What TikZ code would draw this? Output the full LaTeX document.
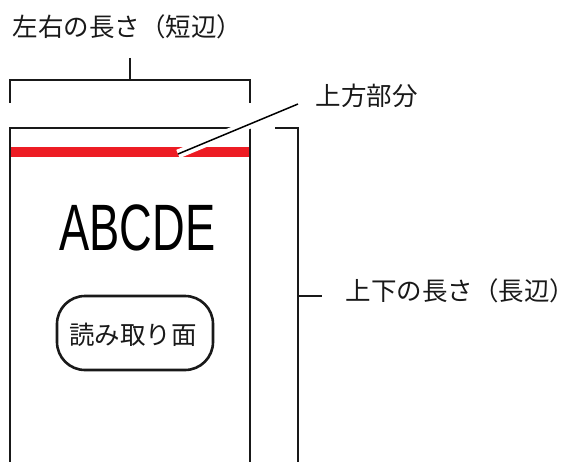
\documentclass[tikz,border=0pt]{standalone}
\usepackage{fontspec}
\newfontfamily\jp{Noto Sans CJK JP}
\newfontfamily\abc[FakeStretch=0.69]{Liberation Sans}
\definecolor{barred}{HTML}{ED1C24}
\begin{document}
\begin{tikzpicture}[x=1pt,y=-1pt,
  blk/.style={draw=black!90, line width=2.6pt},
  jplabel/.style={inner sep=0pt, font=\jp\fontsize{25.5}{28}\selectfont, text=black!90}]
\useasboundingbox (0,0) rectangle (580,462);
% top label and bracket
\node[jplabel] (toplabel) at (127.5,27) {左右の長さ（短辺）};
\coordinate (tt) at (130,58);
\coordinate (tm) at (130,80);
\coordinate (tl) at (10,80);
\coordinate (tr) at (250,80);
\coordinate (tld) at (10,103);
\coordinate (trd) at (250,103);
\draw[blk] (tt) -- (tm);
\draw[blk] (tld) -- (tl) -- (tr) -- (trd);
% card
\coordinate (c1) at (10,462);
\coordinate (c2) at (10,128);
\coordinate (c3) at (250,128);
\coordinate (c4) at (250,462);
\draw[blk, line join=miter] (c1) -- (c2) -- (c3) -- (c4);
% red bar
\coordinate (r1) at (11,152.5);
\coordinate (r2) at (249,152.5);
\draw[barred, line width=10pt] (r1) -- (r2);
% right bracket
\coordinate (b1) at (275,128);
\coordinate (b2) at (298,128);
\coordinate (b3) at (298,462);
\coordinate (bt1) at (298,296);
\coordinate (bt2) at (322,296);
\draw[blk] (b1) -- (b2) -- (b3);
\draw[blk] (bt1) -- (bt2);
\node[jplabel] (sidelabel) at (460.5,290.5) {上下の長さ（長辺）};
% leader
\node[jplabel] (toplbl) at (366.5,95.5) {上方部分};
\coordinate (lt) at (298,104);
\coordinate (lb) at (178,154);
\draw[white, line width=9pt] (lt) -- (lb);
\draw[black, line width=1.5pt] (lt) -- (lb);
% texts on card
\node[inner sep=0pt, anchor=base, font=\abc\fontsize{65.6}{70}\selectfont] (abcde) at (137.5,250) {ABCDE};
\node[blk, rounded corners=28pt, minimum width=156pt, minimum height=74pt, inner sep=0pt] (readbox) at (135,333) {};
\node[jplabel] (readlbl) at (133,335) {読み取り面};
\end{tikzpicture}
\end{document}
